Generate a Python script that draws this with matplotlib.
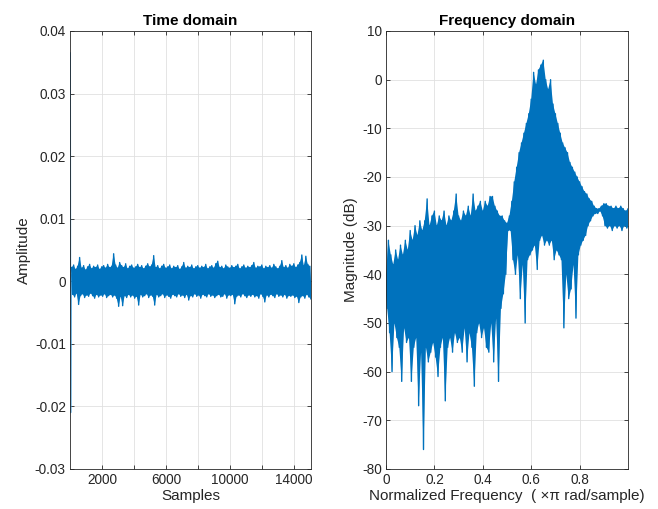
import matplotlib

matplotlib.use("Agg")
import matplotlib.pyplot as plt
import numpy as np

# ---- time domain: start transient, then band peaks/troughs (units of 1e-4) ----
spike_x = [0, 12, 30, 55]
spike_y = [0.0, 0.0365, -0.0210, 0.0010]

time_step = 125
time_start = 100
time_hi = [
    22, 26, 19, 24, 38, 21, 25, 18, 23, 27,
    20, 24, 22, 26, 19, 23, 25, 21, 27, 22,
    24, 44, 26, 21, 30, 25, 22, 28, 20, 24,
    26, 21, 23, 27, 22, 25, 20, 24, 28, 23,
    26, 41, 22, 25, 20, 24, 27, 21, 23, 26,
    20, 24, 22, 25, 19, 23, 30, 21, 24, 22,
    26, 20, 23, 25, 21, 24, 22, 27, 20, 23,
    25, 21, 28, 32, 22, 24, 20, 26, 23, 21,
    25, 22, 24, 27, 20, 23, 26, 21, 24, 22,
    25, 30, 21, 24, 23, 26, 20, 24, 22, 25,
    21, 27, 23, 20, 24, 33, 22, 25, 21, 27,
    24, 28, 22, 26, 30, 42, 25, 40, 27, 24,
]
time_lo = [
    -21, -25, -19, -37, -23, -20, -26, -22, -24, -19,
    -23, -27, -21, -25, -22, -24, -20, -26, -23, -21,
    -25, -22, -27, -40, -24, -39, -23, -26, -21, -25,
    -22, -27, -24, -38, -21, -25, -23, -20, -26, -22,
    -24, -38, -21, -25, -23, -20, -26, -22, -24, -27,
    -21, -23, -25, -20, -24, -22, -26, -21, -30, -23,
    -25, -20, -24, -22, -27, -21, -23, -25, -20, -24,
    -22, -26, -23, -21, -25, -24, -20, -27, -22, -23,
    -21, -36, -24, -22, -25, -20, -23, -26, -22, -24,
    -21, -25, -23, -27, -20, -24, -33, -22, -25, -21,
    -23, -26, -20, -24, -22, -25, -21, -27, -23, -24,
    -22, -26, -24, -34, -25, -23, -27, -21, -25, -28,
]

# ---- frequency domain: peaks / troughs in dB every 0.01 (x pi rad/sample) ----
freq_step = 0.01
freq_hi = [
    -40, -33, -36, -38, -35, -37, -34, -36, -33, -35,
    -31, -33, -30, -32, -29, -31, -29, -24.5, -30, -28,
    -27, -30, -28, -29, -27, -30, -28, -29, -27, -23.5,
    -28, -29, -27, -28, -26, -28, -23.5, -27, -26, -25,
    -27, -25, -26, -24, -24, -26, -27, -28, -28, -29,
    -29.5, -28, -25, -21, -18, -15, -13, -11, -9, -7,
    -4, 1.5, -1, 2, 3, 4, 0, -2, 0, -5,
    -7, -9, -11, -13, -14, -15, -17, -18, -19, -20,
    -21, -22, -23, -23.5, -24.5, -25, -26, -26.5, -26.5, -26,
    -25.5, -25.5, -26, -26, -26.5, -26, -26.5, -26, -26.5, -27,
    -26.5,
]
freq_lo = [
    -47, -52, -60, -50, -53, -55, -62, -51, -54, -53,
    -62, -55, -53, -67, -56, -76, -55, -58, -56, -54,
    -57, -61, -55, -53, -66, -55, -53, -56, -52, -54,
    -53, -56, -51, -58, -52, -55, -63, -52, -50, -53,
    -51, -55, -56, -50, -58, -49, -62, -47, -44, -40,
    -31, -31, -37, -40, -36, -45, -38, -50, -37, -36,
    -35, -34, -39, -33, -32, -34, -33, -34, -33, -37,
    -35, -36, -37, -51, -40, -45, -43, -38, -49, -36,
    -34, -33, -32, -30, -29, -28, -27.5, -27.5, -27, -28,
    -30, -30.5, -30, -31, -30, -30.5, -30, -31, -30, -30.5,
    -30,
]

LINE_COLOR = "#0072BD"
TEXT_COLOR = "#262626"

plt.rcParams.update(
    {
        "font.family": ["Liberation Sans", "DejaVu Sans"],
        "axes.unicode_minus": False,
        "font.size": 10,
        "xtick.direction": "in",
        "ytick.direction": "in",
        "xtick.top": True,
        "ytick.right": True,
        "xtick.color": TEXT_COLOR,
        "ytick.color": TEXT_COLOR,
        "axes.edgecolor": TEXT_COLOR,
        "axes.linewidth": 0.6,
    }
)


def zigzag(x0, step, hi, lo, scale=1.0):
    """Interleave peak and trough values into one dense trace."""
    hi = np.asarray(hi, dtype=float) * scale
    lo = np.asarray(lo, dtype=float) * scale
    x_hi = x0 + np.arange(len(hi)) * step
    x_lo = x_hi + step / 2
    xs = np.empty(2 * len(hi))
    ys = np.empty(2 * len(hi))
    xs[0::2], xs[1::2] = x_hi, x_lo
    ys[0::2], ys[1::2] = hi, lo
    return xs, ys, (x_hi, hi, x_lo, lo)


def draw_trace(ax, x0, step, hi, lo, scale=1.0):
    xs, ys, (x_hi, y_hi, x_lo, y_lo) = zigzag(x0, step, hi, lo, scale)
    # solid core between the peak and trough envelopes
    ax.fill(
        np.concatenate([x_hi, x_lo[::-1]]),
        np.concatenate([y_hi, y_lo[::-1]]),
        color=LINE_COLOR,
        linewidth=0,
    )
    ax.plot(xs, ys, color=LINE_COLOR, linewidth=1.0)


def style_axes(ax):
    ax.grid(True, color="#e0e0e0", linewidth=0.6)
    ax.set_axisbelow(True)
    ax.tick_params(length=3, width=0.6, labelsize=9.8, labelcolor=TEXT_COLOR, pad=3)


fig = plt.figure(figsize=(6.58, 5.09), dpi=100)
ax1 = fig.add_axes([0.1064, 0.0786, 0.3663, 0.8605])
ax2 = fig.add_axes([0.5866, 0.0786, 0.3678, 0.8605])

# time domain
ax1.plot(spike_x, spike_y, color="#3a9ad9", linewidth=1.1)
draw_trace(ax1, time_start, time_step, time_hi, time_lo, scale=1e-4)
ax1.set_xlim(0, 15050)
ax1.set_ylim(-0.03, 0.04)
ax1.set_xticks(np.arange(2000, 15000, 2000))
ax1.set_xticklabels(["2000", "", "6000", "", "10000", "", "14000"])
ax1.set_yticks(np.arange(-0.03, 0.0401, 0.01))
ax1.set_yticklabels(["-0.03", "-0.02", "-0.01", "0", "0.01", "0.02", "0.03", "0.04"])
ax1.set_title("Time domain", fontsize=11, fontweight="bold", color="black", pad=4)
ax1.set_xlabel("Samples", fontsize=11, color=TEXT_COLOR, labelpad=1)
ax1.set_ylabel("Amplitude", fontsize=11, color=TEXT_COLOR, labelpad=3)
style_axes(ax1)

# frequency domain
draw_trace(ax2, 0.0, freq_step, freq_hi, freq_lo)
ax2.set_xlim(0, 0.9999)
ax2.set_ylim(-80, 10)
ax2.set_xticks([0, 0.2, 0.4, 0.6, 0.8])
ax2.set_xticklabels(["0", "0.2", "0.4", "0.6", "0.8"])
ax2.set_yticks(np.arange(-80, 11, 10))
ax2.set_title("Frequency domain", fontsize=11, fontweight="bold", color="black", pad=4)
ax2.set_xlabel("Normalized Frequency  ( \u00d7\u03c0 rad/sample)", fontsize=11, color=TEXT_COLOR, labelpad=1)
ax2.set_ylabel("Magnitude (dB)", fontsize=11, color=TEXT_COLOR, labelpad=3)
style_axes(ax2)

fig.savefig("out.png", dpi=100)
